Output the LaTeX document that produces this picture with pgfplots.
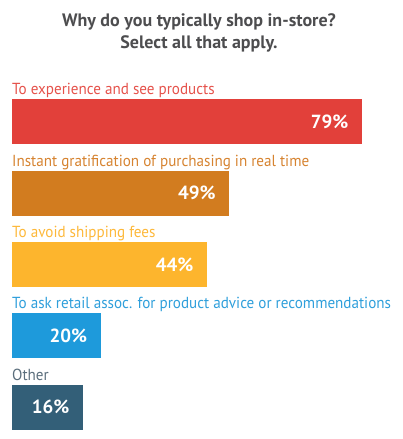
\documentclass[border=0pt]{standalone}
\usepackage{pgfplots}
\pgfplotsset{compat=1.18}
\usepackage{fontspec}
\setmainfont{PT Sans}
\newfontfamily\lblfont{PT Sans}[FakeStretch=0.945]

\definecolor{cRed}{HTML}{E2403A}
\definecolor{cOrange}{HTML}{D27C1F}
\definecolor{cYellow}{HTML}{FDB52D}
\definecolor{cBlue}{HTML}{1E9ADB}
\definecolor{cSlate}{HTML}{335F78}
\definecolor{tRed}{HTML}{E5524B}
\definecolor{tOrange}{HTML}{D68330}
\definecolor{tYellow}{HTML}{FDB83A}
\definecolor{tBlue}{HTML}{2F9FDB}
\definecolor{tSlate}{HTML}{5B6E7C}
\definecolor{titlegray}{HTML}{4D4D4F}

\begin{document}
\begin{tikzpicture}
  \useasboundingbox (0,0) rectangle (402pt,439pt);
  \begin{axis}[
    at={(0,0)}, anchor=south west,
    scale only axis, width=402pt, height=439pt,
    axis lines=none,
    xmin=-2.709, xmax=88.04,
    ymin=0, ymax=439, y dir=reverse,
    xbar, bar shift=0pt, bar width=45,
    clip=false,
    /pgf/number format/assume math mode=true,
    nodes near coords={\pgfmathprintnumber{\pgfplotspointmeta}\%},
    nodes near coords style={anchor=east, xshift=-10pt, text=white,
      font=\fontsize{19}{21}\selectfont\bfseries},
    point meta=x,
  ]
    \addplot[draw=none, fill=cRed] coordinates {(79,121.5)};
    \addplot[draw=none, fill=cOrange] coordinates {(49,193)};
    \addplot[draw=none, fill=cYellow] coordinates {(44,264.5)};
    \addplot[draw=none, fill=cBlue] coordinates {(20,335.5)};
    \addplot[draw=none, fill=cSlate] coordinates {(16,407)};

    \node[anchor=base, text=titlegray, font=\fontsize{18}{20}\selectfont\bfseries]
      at (axis cs:42.2,26) {Why do you typically shop in-store?};
    \node[anchor=base, text=titlegray, font=\fontsize{18}{20}\selectfont\bfseries]
      at (axis cs:42.2,48) {Select all that apply.};

    \tikzset{lbl/.style={anchor=base west, inner sep=0pt, font=\lblfont\fontsize{16}{18}\selectfont}}
    \node[lbl, text=tRed] at (axis cs:0,94) {To experience and see products};
    \node[lbl, text=tOrange] at (axis cs:0,166) {Instant gratification of purchasing in real time};
    \node[lbl, text=tYellow] at (axis cs:0,237) {To avoid shipping fees};
    \node[lbl, text=tBlue] at (axis cs:0,308) {To ask retail assoc. for product advice or recommendations};
    \node[lbl, text=tSlate] at (axis cs:0,380) {Other};
  \end{axis}
\end{tikzpicture}
\end{document}
